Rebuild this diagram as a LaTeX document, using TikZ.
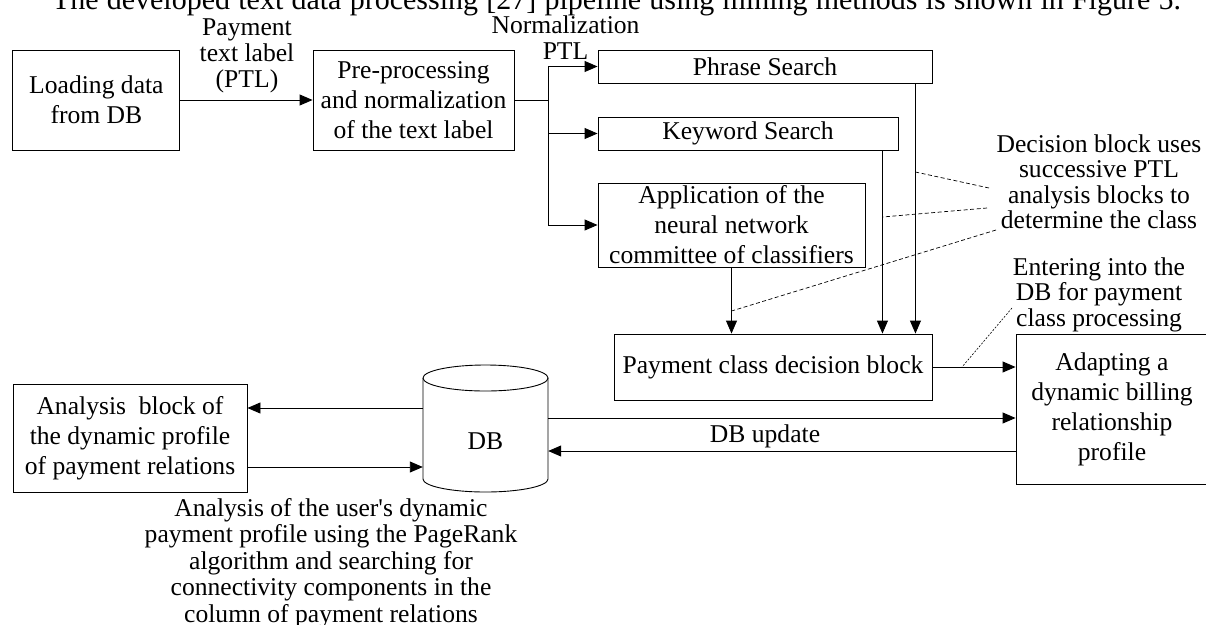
\documentclass[tikz,border=0pt]{standalone}
\usepackage{fontspec}
\setmainfont{Liberation Serif}
\usetikzlibrary{arrows.meta,calc}
\begin{document}
\begin{tikzpicture}[x=1pt,y=-1pt,
  every node/.style={font=\fontsize{25.6}{30}\selectfont, inner sep=0pt},
  box/.style={draw, line width=0.9pt, align=center},
  arr/.style={line width=0.9pt, -{Triangle[length=13pt,width=11pt]}},
  ln/.style={line width=0.9pt},
  dsh/.style={line width=0.7pt, dash pattern=on 4pt off 2.5pt},
  dotl/.style={line width=0.6pt, dash pattern=on 2pt off 1.5pt},
  note/.style={align=center, font=\fontsize{25.6}{25.5}\selectfont}]
\useasboundingbox (0,0) rectangle (1206,624);

% title line (cut at the top)
\node[anchor=base, font=\fontsize{30}{34}\selectfont] (title) at (616.5,9.5)
  {\makebox[1129pt][s]{The developed text data processing [27] pipeline using mining methods is shown in Figure 5.}};

% boxes
\node[box, minimum width=167, minimum height=100] (load) at (96.4,100) {Loading data\\from DB};
\node[box, minimum width=201, minimum height=100] (pre) at (413.5,100) {Pre-processing\\and normalization\\of the text label};
\node[box, minimum width=334, minimum height=33] (phrase) at (765,66.5) {Phrase Search};
\node[box, minimum width=300, minimum height=33] (keyword) at (748,133.5) {Keyword Search};
\node[box, minimum width=267, minimum height=84] (app) at (731.5,225) {Application of the\\neural network\\committee of classifiers};
\node[box, minimum width=318, minimum height=66] (dec) at (773,367) {Payment class decision block};
\node[box, minimum width=192, minimum height=150] (adapt) at (1112,409) {Adapting a\\dynamic billing\\relationship\\profile};
\node[box, minimum width=234, minimum height=108] (ana) at (130,438) {Analysis\ \ block of\\the dynamic profile\\of payment relations};

% database cylinder
\draw[ln] (485.5,378) ellipse [x radius=62.5, y radius=13];
\draw[ln] (423,378) -- (423,479) arc[start angle=180, end angle=0, x radius=62.5, y radius=13] -- (548,378);
\node[minimum width=125] (db) at (485.5,441.5) {DB};

% labels
\node[align=center, font=\fontsize{25.6}{26}\selectfont] (ptl) at (247,55.6) {Payment\\text label\\(PTL)};
\node[align=center, font=\fontsize{25.6}{26}\selectfont] (nptl) at (565.5,37.7) {Normalization\\PTL};
\node[anchor=base] (upd) at (765,442) {DB update};
\node[note] (dann) at (1099,181.7) {Decision block uses\\successive PTL\\analysis blocks to\\determine the class};
\node[note] (eann) at (1099,294.5) {Entering into the\\DB for payment\\class processing};
\node[note, font=\fontsize{25.6}{26.5}\selectfont] (bann) at (331,563) {Analysis of the user\textquotesingle s dynamic\\payment profile using the PageRank\\algorithm and searching for\\connectivity components in the\\column of payment relations};

% helper coordinates
\coordinate (split) at (548,100);
\coordinate (pA) at ([xshift=-17]phrase.south east);
\coordinate (kA) at ([xshift=-16]keyword.south east);
\coordinate (h408) at (0,408);
\coordinate (h467) at (0,467);
\coordinate (h418) at (0,418);
\coordinate (h451) at (0,451);

% connectors
\draw[arr] (load.east) -- (pre.west);
\draw[ln] (pre.east) -- (split);
\draw[arr] (split) |- (phrase.west);
\draw[arr] (split) |- (keyword.west);
\draw[arr] (split) |- (app.west);
\draw[arr] (pA) -- (pA |- dec.north);
\draw[arr] (kA) -- (kA |- dec.north);
\draw[arr] (app.south) -- (app.south |- dec.north);
\draw[arr] (dec.east) -- (dec.east -| adapt.west);
\draw[arr] (db.west |- h408) -- (ana.east |- h408);
\draw[arr] (ana.east |- h467) -- (db.west |- h467);
\draw[arr] (db.east |- h418) -- (adapt.west |- h418);
\draw[arr] (adapt.west |- h451) -- (db.east |- h451);

% annotation leaders
\coordinate (dA) at (989,188);
\coordinate (dB) at (987,208);
\coordinate (dC) at (996,230);
\coordinate (tA) at (pA |- 0,172);
\coordinate (tB) at (kA |- 0,217);
\coordinate (tC) at (app.south |- 0,311);
\draw[dsh] (dA) -- (tA);
\draw[dsh] (dB) -- (tB);
\draw[dsh] (dC) -- (tC);
\coordinate (eA) at (1012,308);
\coordinate (eB) at (962,367);
\draw[dotl] (eA) -- (eB);
\end{tikzpicture}
\end{document}
